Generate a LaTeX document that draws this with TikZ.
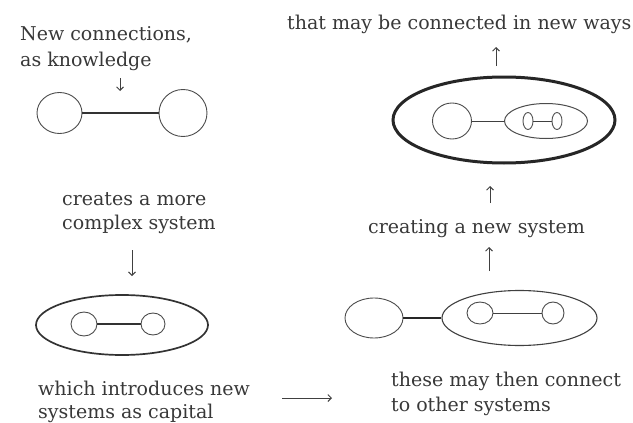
\documentclass[tikz,border=0pt]{standalone}
\usepackage{fontspec}
\setmainfont{DejaVu Serif}
\usetikzlibrary{arrows.meta,shapes.geometric}
\begin{document}
\begin{tikzpicture}[x=1pt,y=-1pt,
  txt/.style={anchor=base west, inner sep=0pt, font=\fontsize{19}{22}\selectfont, text=black!78},
  ring/.style={ellipse, draw=black!70, line width=0.9pt, inner sep=0pt},
  link/.style={draw=black!80, line width=1.5pt},
  thinlink/.style={draw=black!75, line width=1pt},
  arr/.style={draw=black!75, line width=0.9pt, -{Straight Barb[length=3.5pt,width=7pt]}},
]
\useasboundingbox (0,0) rectangle (633,423);

% texts
\node[txt] (t1a) at (20,41) {New connections,};
\node[txt] (t1b) at (20,66) {as knowledge};
\node[txt] (t2a) at (62,205) {creates a more};
\node[txt] (t2b) at (62,229) {complex system};
\node[txt] (t3a) at (38,395) {which introduces new};
\node[txt] (t3b) at (38,418) {systems as capital};
\node[txt] (t4a) at (391,386) {these may then connect};
\node[txt] (t4b) at (391,411) {to other systems};
\node[txt] (t5) at (368,233) {creating a new system};
\node[txt] (t6) at (287,30) {that may be connected in new ways};

% top-left pair
\node[ring, minimum width=45pt, minimum height=41pt] (c1) at (59.5,113) {};
\node[ring, minimum width=48pt, minimum height=47pt] (c2) at (183,113) {};
\draw[link] (c1.east) -- (c2.west);

% bottom-left system
\node[ellipse, draw=black!80, line width=1.7pt, inner sep=0pt, minimum width=172pt, minimum height=60pt] (e1) at (122,325) {};
\node[ring, minimum width=26pt, minimum height=24pt] (c3) at (84,324) {};
\node[ring, minimum width=24pt, minimum height=22pt] (c4) at (153,324) {};
\draw[link] (c3.east) -- (c4.west);

% bottom-right system
\node[ring, minimum width=58pt, minimum height=40pt] (c5) at (374,318) {};
\node[ellipse, draw=black!75, line width=1.1pt, inner sep=0pt, minimum width=155pt, minimum height=55pt] (e2) at (519.5,318) {};
\draw[draw=black!85, line width=2.4pt] (c5.east) -- (e2.west);
\node[ring, minimum width=26pt, minimum height=22pt] (c6) at (480,313) {};
\node[ring, minimum width=22pt, minimum height=22pt] (c7) at (553,313) {};
\draw[thinlink] (c6.east) -- (c7.west);

% top-right system
\node[ellipse, draw=black!85, line width=3pt, inner sep=0pt, minimum width=222pt, minimum height=86pt] (e3) at (504,120) {};
\node[ring, minimum width=39pt, minimum height=36pt] (c8) at (452,121) {};
\node[ellipse, draw=black!70, line width=1pt, inner sep=0pt, minimum width=83pt, minimum height=35pt] (e4) at (546,121) {};
\draw[thinlink] (c8.east) -- (e4.west);
\node[ring, minimum width=10pt, minimum height=17pt] (c9) at (528,121) {};
\node[ring, minimum width=10pt, minimum height=17pt] (c10) at (557,121) {};
\draw[thinlink] (c9.east) -- (c10.west);

% arrows
\coordinate (a1s) at (120,78);
\coordinate (a1e) at (120,91);
\draw[arr] (a1s) -- (a1e);
\coordinate (a2s) at (132,250);
\coordinate (a2e) at (132,276);
\draw[arr] (a2s) -- (a2e);
\coordinate (a3s) at (282,398);
\coordinate (a3e) at (332,398);
\draw[arr] (a3s) -- (a3e);
\coordinate (a4s) at (489,271);
\coordinate (a4e) at (489,247);
\draw[arr] (a4s) -- (a4e);
\coordinate (a5s) at (490,203);
\coordinate (a5e) at (490,186);
\draw[arr] (a5s) -- (a5e);
\coordinate (a6s) at (496,66);
\coordinate (a6e) at (496,47);
\draw[arr] (a6s) -- (a6e);
\end{tikzpicture}
\end{document}
